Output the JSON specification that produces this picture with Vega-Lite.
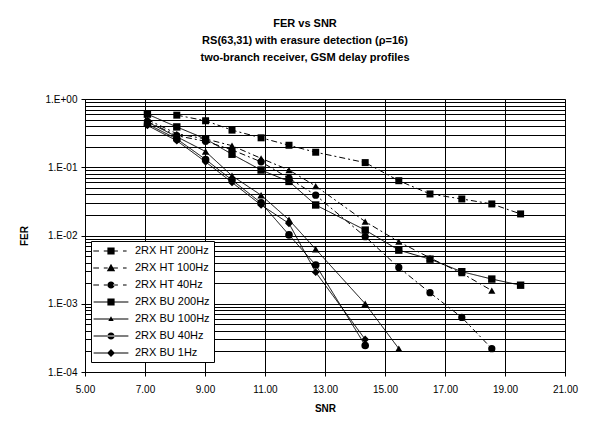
{
  "$schema": "https://vega.github.io/schema/vega-lite/v6.json",
  "width": 480,
  "height": 273,
  "autosize": {"type": "none"},
  "padding": {"left": 85, "top": 99, "right": 32, "bottom": 53},
  "background": "white",
  "config": {
    "font": "Liberation Sans",
    "view": {"stroke": "#888888", "strokeWidth": 1},
    "axis": {"labelFont": "Liberation Sans", "titleFont": "Liberation Sans", "labelColor": "black", "titleColor": "black", "domainColor": "black", "tickColor": "black"}
  },
  "title": {
    "text": ["FER vs SNR", "RS(63,31) with erasure detection (ρ=16)", "two-branch receiver, GSM delay profiles"],
    "fontSize": 11,
    "fontWeight": "bold",
    "font": "Liberation Sans",
    "lineHeight": 17,
    "anchor": "middle",
    "dx": -20,
    "dy": -3,
    "offset": 28,
    "color": "black"
  },
  "data": {
    "values": [
      {"series": "2RX HT 200Hz", "snr": 8.06, "fer": 0.58},
      {"series": "2RX HT 200Hz", "snr": 9.02, "fer": 0.48},
      {"series": "2RX HT 200Hz", "snr": 9.9, "fer": 0.35},
      {"series": "2RX HT 200Hz", "snr": 10.87, "fer": 0.27},
      {"series": "2RX HT 200Hz", "snr": 11.8, "fer": 0.21},
      {"series": "2RX HT 200Hz", "snr": 12.69, "fer": 0.166},
      {"series": "2RX HT 200Hz", "snr": 14.34, "fer": 0.117},
      {"series": "2RX HT 200Hz", "snr": 15.46, "fer": 0.0635},
      {"series": "2RX HT 200Hz", "snr": 16.5, "fer": 0.0406},
      {"series": "2RX HT 200Hz", "snr": 17.56, "fer": 0.0343},
      {"series": "2RX HT 200Hz", "snr": 18.56, "fer": 0.029},
      {"series": "2RX HT 200Hz", "snr": 19.52, "fer": 0.0207},

      {"series": "2RX HT 100Hz", "snr": 7.08, "fer": 0.5},
      {"series": "2RX HT 100Hz", "snr": 8.06, "fer": 0.31},
      {"series": "2RX HT 100Hz", "snr": 9.02, "fer": 0.26},
      {"series": "2RX HT 100Hz", "snr": 9.9, "fer": 0.207},
      {"series": "2RX HT 100Hz", "snr": 10.87, "fer": 0.135},
      {"series": "2RX HT 100Hz", "snr": 11.8, "fer": 0.091},
      {"series": "2RX HT 100Hz", "snr": 12.69, "fer": 0.053},
      {"series": "2RX HT 100Hz", "snr": 14.34, "fer": 0.016},
      {"series": "2RX HT 100Hz", "snr": 15.46, "fer": 0.0081},
      {"series": "2RX HT 100Hz", "snr": 16.5, "fer": 0.0047},
      {"series": "2RX HT 100Hz", "snr": 17.56, "fer": 0.0028},
      {"series": "2RX HT 100Hz", "snr": 18.56, "fer": 0.00156},

      {"series": "2RX HT 40Hz", "snr": 7.08, "fer": 0.47},
      {"series": "2RX HT 40Hz", "snr": 8.06, "fer": 0.29},
      {"series": "2RX HT 40Hz", "snr": 9.02, "fer": 0.24},
      {"series": "2RX HT 40Hz", "snr": 9.9, "fer": 0.18},
      {"series": "2RX HT 40Hz", "snr": 10.87, "fer": 0.12},
      {"series": "2RX HT 40Hz", "snr": 11.8, "fer": 0.069},
      {"series": "2RX HT 40Hz", "snr": 12.69, "fer": 0.039},
      {"series": "2RX HT 40Hz", "snr": 14.34, "fer": 0.0096},
      {"series": "2RX HT 40Hz", "snr": 15.46, "fer": 0.0034},
      {"series": "2RX HT 40Hz", "snr": 16.5, "fer": 0.00145},
      {"series": "2RX HT 40Hz", "snr": 17.56, "fer": 0.00063},
      {"series": "2RX HT 40Hz", "snr": 18.56, "fer": 0.00022},

      {"series": "2RX BU 200Hz", "snr": 7.08, "fer": 0.6},
      {"series": "2RX BU 200Hz", "snr": 8.06, "fer": 0.39},
      {"series": "2RX BU 200Hz", "snr": 9.02, "fer": 0.26},
      {"series": "2RX BU 200Hz", "snr": 9.9, "fer": 0.155},
      {"series": "2RX BU 200Hz", "snr": 10.87, "fer": 0.091},
      {"series": "2RX BU 200Hz", "snr": 11.8, "fer": 0.062},
      {"series": "2RX BU 200Hz", "snr": 12.69, "fer": 0.028},
      {"series": "2RX BU 200Hz", "snr": 14.34, "fer": 0.012},
      {"series": "2RX BU 200Hz", "snr": 15.46, "fer": 0.0061},
      {"series": "2RX BU 200Hz", "snr": 16.5, "fer": 0.0045},
      {"series": "2RX BU 200Hz", "snr": 17.56, "fer": 0.00295},
      {"series": "2RX BU 200Hz", "snr": 18.56, "fer": 0.0023},
      {"series": "2RX BU 200Hz", "snr": 19.52, "fer": 0.00187},

      {"series": "2RX BU 100Hz", "snr": 7.08, "fer": 0.46},
      {"series": "2RX BU 100Hz", "snr": 8.06, "fer": 0.28},
      {"series": "2RX BU 100Hz", "snr": 9.02, "fer": 0.17},
      {"series": "2RX BU 100Hz", "snr": 9.9, "fer": 0.075},
      {"series": "2RX BU 100Hz", "snr": 10.87, "fer": 0.039},
      {"series": "2RX BU 100Hz", "snr": 11.8, "fer": 0.017},
      {"series": "2RX BU 100Hz", "snr": 12.69, "fer": 0.0063},
      {"series": "2RX BU 100Hz", "snr": 14.34, "fer": 0.001},
      {"series": "2RX BU 100Hz", "snr": 15.46, "fer": 0.00022},

      {"series": "2RX BU 40Hz", "snr": 7.08, "fer": 0.43},
      {"series": "2RX BU 40Hz", "snr": 8.06, "fer": 0.26},
      {"series": "2RX BU 40Hz", "snr": 9.02, "fer": 0.13},
      {"series": "2RX BU 40Hz", "snr": 9.9, "fer": 0.065},
      {"series": "2RX BU 40Hz", "snr": 10.87, "fer": 0.03},
      {"series": "2RX BU 40Hz", "snr": 11.8, "fer": 0.0102},
      {"series": "2RX BU 40Hz", "snr": 12.69, "fer": 0.0037},
      {"series": "2RX BU 40Hz", "snr": 14.34, "fer": 0.000245},

      {"series": "2RX BU 1Hz", "snr": 7.08, "fer": 0.41},
      {"series": "2RX BU 1Hz", "snr": 8.06, "fer": 0.245},
      {"series": "2RX BU 1Hz", "snr": 9.02, "fer": 0.12},
      {"series": "2RX BU 1Hz", "snr": 9.9, "fer": 0.06},
      {"series": "2RX BU 1Hz", "snr": 10.87, "fer": 0.028},
      {"series": "2RX BU 1Hz", "snr": 11.8, "fer": 0.015},
      {"series": "2RX BU 1Hz", "snr": 12.69, "fer": 0.0029},
      {"series": "2RX BU 1Hz", "snr": 14.34, "fer": 0.0003}
    ]
  },
  "encoding": {
    "x": {
      "field": "snr", "type": "quantitative",
      "scale": {"domain": [5, 21], "nice": false, "zero": false},
      "axis": {
        "title": "SNR", "titleFontSize": 10, "titleFontWeight": "bold", "titlePadding": 9,
        "values": [5, 7, 9, 11, 13, 15, 17, 19, 21], "format": ".2f",
        "labelFontSize": 10, "tickSize": 4, "labelPadding": 8,
        "grid": true, "gridColor": "black", "gridOpacity": 1, "gridWidth": 1,
        "labelFlush": false, "labelOverlap": false
      }
    },
    "y": {
      "field": "fer", "type": "quantitative",
      "scale": {"type": "log", "domain": [0.0001, 1], "nice": false},
      "axis": {
        "title": "FER", "titleFontSize": 10, "titleFontWeight": "bold", "titlePadding": 16,
        "values": [0.0001, 0.0002, 0.0003, 0.0004, 0.0005, 0.0006, 0.0007, 0.0008, 0.0009,
                   0.001, 0.002, 0.003, 0.004, 0.005, 0.006, 0.007, 0.008, 0.009,
                   0.01, 0.02, 0.03, 0.04, 0.05, 0.06, 0.07, 0.08, 0.09,
                   0.1, 0.2, 0.3, 0.4, 0.5, 0.6, 0.7, 0.8, 0.9, 1],
        "labelExpr": "abs(log(datum.value)/LN10 - round(log(datum.value)/LN10)) < 0.01 ? (datum.value >= 0.999 ? '1.E+00' : '1.E-0' + (-round(log(datum.value)/LN10))) : ''",
        "labelFontSize": 10, "tickSize": 4, "labelPadding": 4,
        "labelOverlap": false, "labelBound": false, "labelFlush": false,
        "tickOpacity": {"condition": {"test": "abs(log(datum.value)/LN10 - round(log(datum.value)/LN10)) < 0.01", "value": 1}, "value": 0},
        "grid": true, "gridColor": "black", "gridOpacity": 1, "gridWidth": 1
      }
    }
  },
  "layer": [
    {
      "mark": {"type": "line", "color": "black", "strokeWidth": 1},
      "encoding": {
        "detail": {"field": "series"},
        "strokeDash": {
          "field": "series", "type": "nominal",
          "scale": {
            "domain": ["2RX HT 200Hz", "2RX HT 100Hz", "2RX HT 40Hz", "2RX BU 200Hz", "2RX BU 100Hz", "2RX BU 40Hz", "2RX BU 1Hz"],
            "range": [[6, 3, 2, 3], [6, 3, 2, 3], [6, 3, 2, 3], [1, 0], [1, 0], [1, 0], [1, 0]]
          },
          "legend": null
        }
      }
    },
    {
      "mark": {"type": "point", "filled": true, "color": "black", "opacity": 1},
      "encoding": {
        "shape": {
          "field": "series", "type": "nominal",
          "scale": {
            "domain": ["2RX HT 200Hz", "2RX HT 100Hz", "2RX HT 40Hz", "2RX BU 200Hz", "2RX BU 100Hz", "2RX BU 40Hz", "2RX BU 1Hz"],
            "range": ["square", "triangle-up", "circle", "square", "triangle-up", "circle", "diamond"]
          },
          "legend": null
        },
        "size": {
          "field": "series", "type": "nominal",
          "scale": {
            "domain": ["2RX HT 200Hz", "2RX HT 100Hz", "2RX HT 40Hz", "2RX BU 200Hz", "2RX BU 100Hz", "2RX BU 40Hz", "2RX BU 1Hz"],
            "range": [49, 60, 49, 49, 25, 49, 50]
          },
          "legend": null
        }
      }
    },
    {
      "transform": [{"filter": "datum.snr < 0"}],
      "mark": {"type": "point", "filled": true, "color": "black", "opacity": 1},
      "encoding": {
        "shape": {
          "field": "series", "type": "nominal",
          "scale": {
            "domain": ["2RX HT 200Hz", "2RX HT 100Hz", "2RX HT 40Hz", "2RX BU 200Hz", "2RX BU 100Hz", "2RX BU 40Hz", "2RX BU 1Hz"],
            "range": [
              "M-2.95,-0.08H-2V0.08H-2.95ZM-1.2,-0.08H-0.55V0.08H-1.2ZM0.35,-0.08H1.15V0.08H0.35ZM2,-0.08H2.6V0.08H2ZM-0.6,-0.6H0.6V0.6H-0.6Z",
              "M-2.95,-0.08H-2V0.08H-2.95ZM-1.2,-0.08H-0.55V0.08H-1.2ZM0.35,-0.08H1.15V0.08H0.35ZM2,-0.08H2.6V0.08H2ZM0,-0.7L0.7,0.55H-0.7Z",
              "M-2.95,-0.08H-2V0.08H-2.95ZM-1.2,-0.08H-0.55V0.08H-1.2ZM0.35,-0.08H1.15V0.08H0.35ZM2,-0.08H2.6V0.08H2ZM-0.6,0A0.6,0.6 0 1,0 0.6,0A0.6,0.6 0 1,0 -0.6,0Z",
              "M-2.9,-0.08H2.9V0.08H-2.9ZM-0.6,-0.6H0.6V0.6H-0.6Z",
              "M-2.9,-0.08H2.9V0.08H-2.9ZM0,-0.45L0.45,0.35H-0.45Z",
              "M-2.9,-0.08H2.9V0.08H-2.9ZM-0.6,0A0.6,0.6 0 1,0 0.6,0A0.6,0.6 0 1,0 -0.6,0Z",
              "M-2.9,-0.08H2.9V0.08H-2.9ZM0,-0.65L0.65,0L0,0.65L-0.65,0Z"
            ]
          },
          "legend": {
            "title": null,
            "orient": "none",
            "legendX": 6,
            "legendY": 142,
            "padding": 4,
            "strokeColor": "black",
            "fillColor": "white",
            "cornerRadius": 0,
            "symbolSize": 144,
            "symbolFillColor": "black",
            "symbolStrokeColor": "black",
            "symbolStrokeWidth": 0,
            "symbolOpacity": 1,
            "labelFont": "Liberation Sans",
            "labelFontSize": 11,
            "labelColor": "black",
            "labelOffset": 18,
            "rowPadding": 6,
            "symbolOffset": 10,
            "encode": {
              "symbols": {
                "update": {
                  "fill": {"value": "black"},
                  "fillOpacity": {"value": 1},
                  "opacity": {"value": 1}
                }
              }
            }
          }
        }
      }
    }
  ],
  "resolve": {"scale": {"shape": "independent"}}
}
